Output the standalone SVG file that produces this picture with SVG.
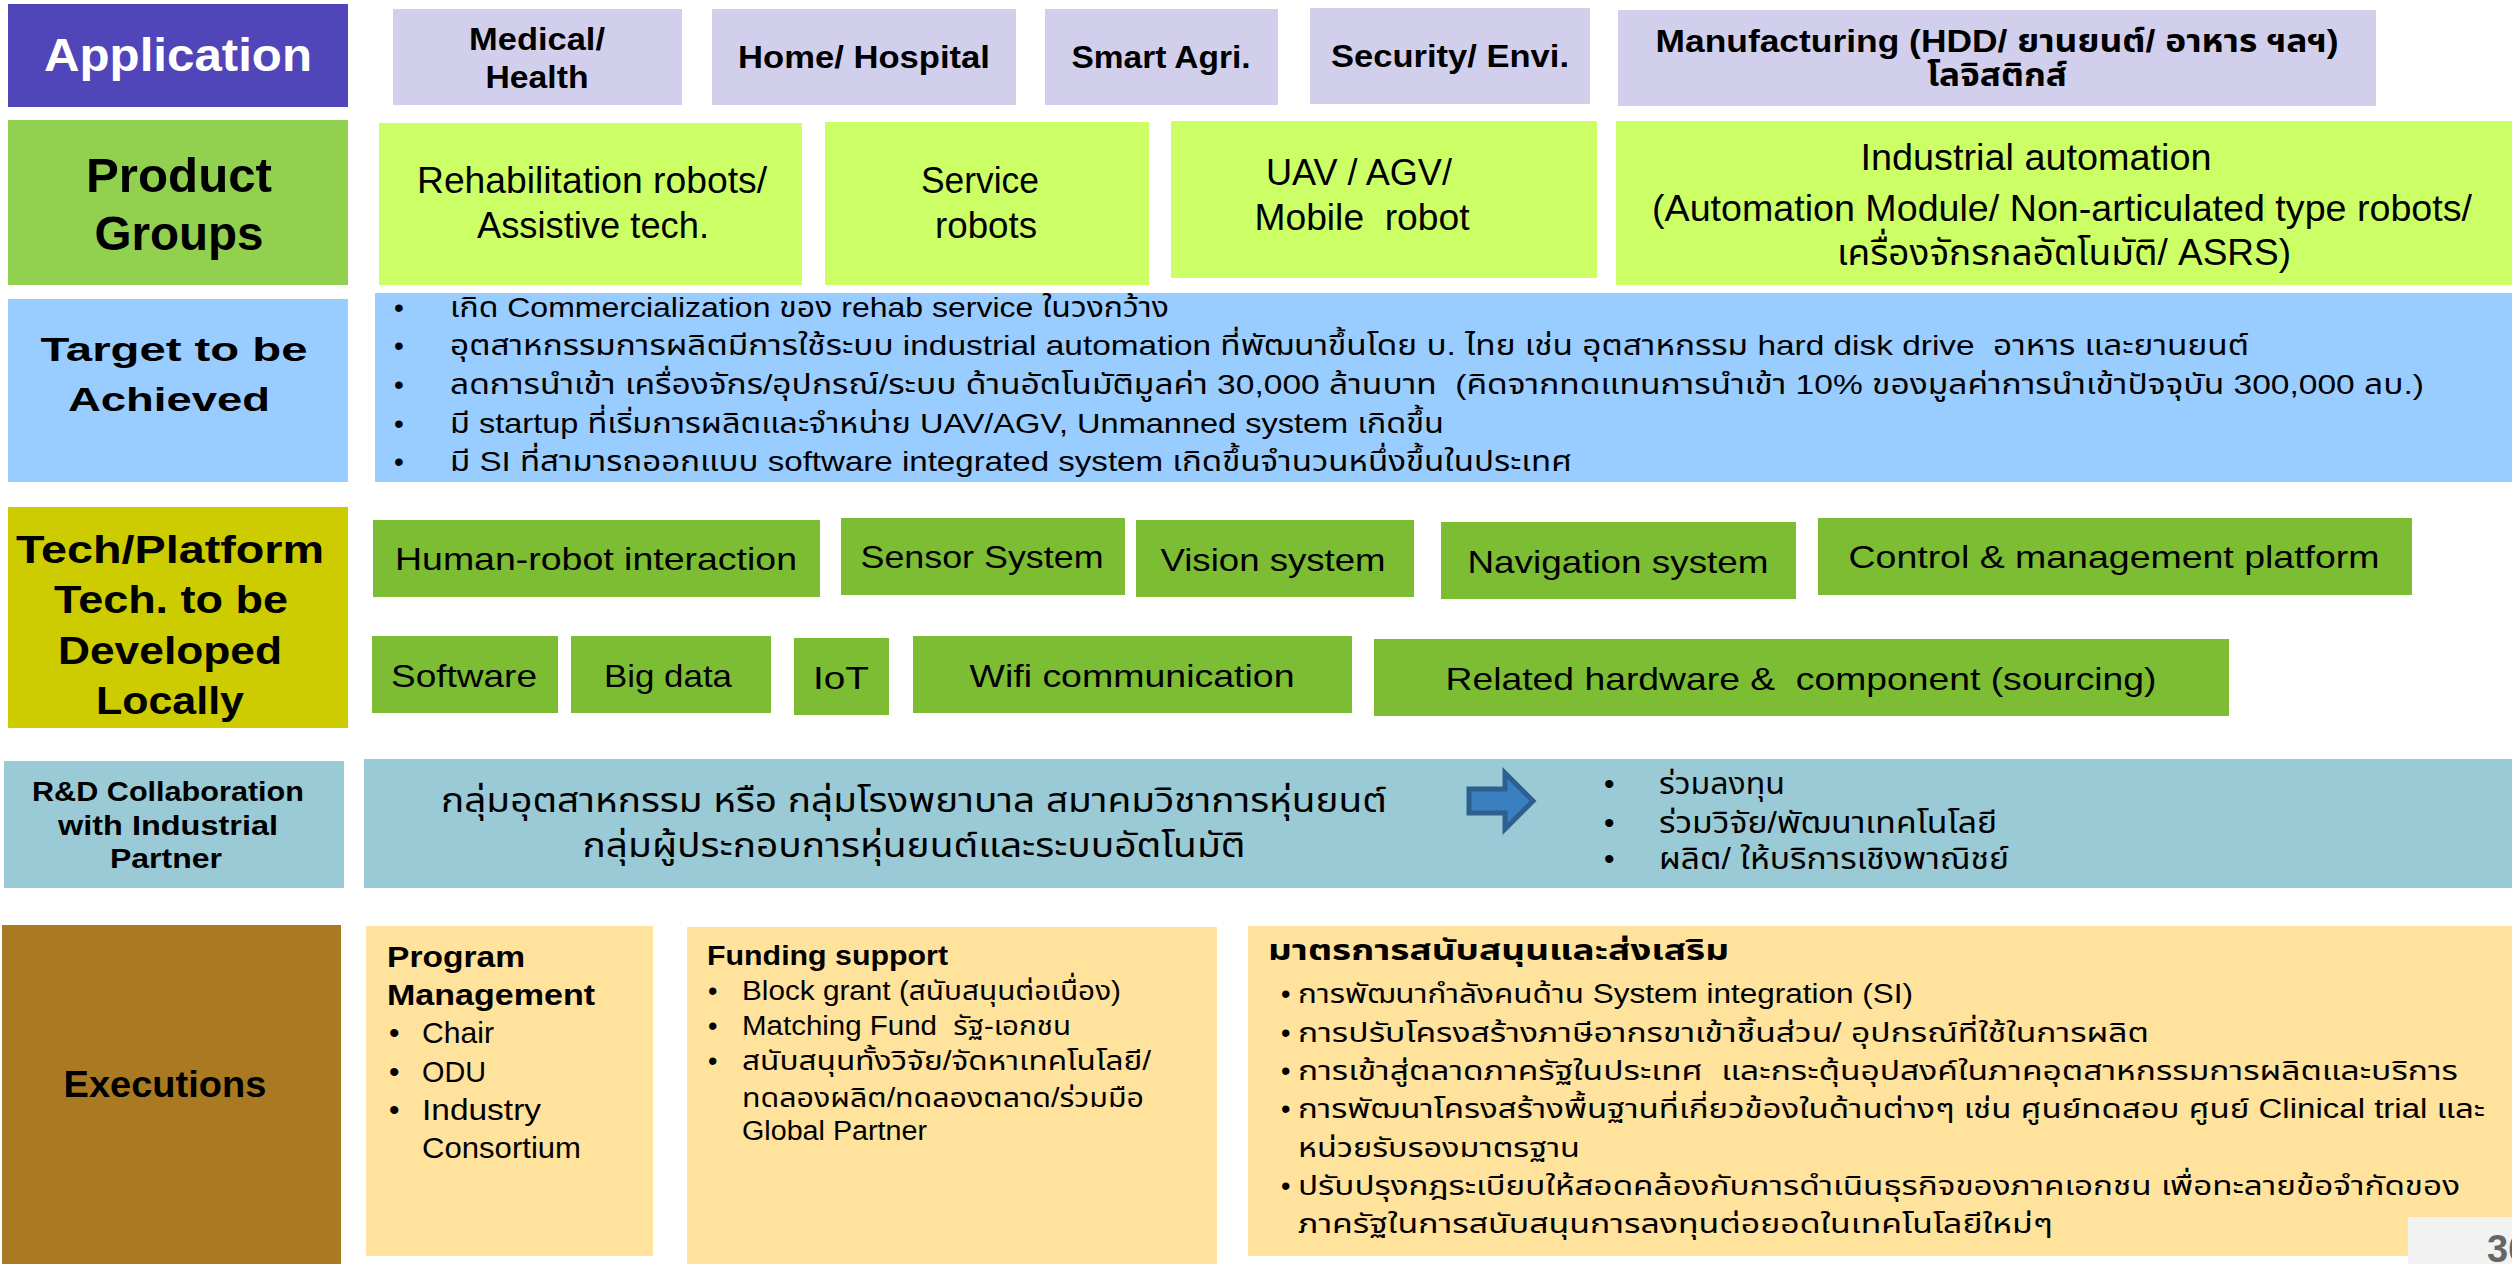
<svg xmlns="http://www.w3.org/2000/svg" width="2512" height="1264" viewBox="0 0 2512 1264">
<style>
text{font-family:Tahoma,"Liberation Sans","Noto Sans Thai","Noto Sans",sans-serif;fill:#000}
.b{font-weight:bold}
.c{text-anchor:middle}
.app{fill:#D2CFEC}
.prod{fill:#CCFF66}
.tech{fill:#7CBD34}
.tgt{fill:#99CCFF}
.rd{fill:#9ACAD5}
.ex{fill:#FFE29C}
.f31{font-size:31px}
.f36{font-size:36px}
.f32{font-size:32px}
.f27{font-size:27px}
.f28{font-size:28px}
.f30{font-size:30px}
</style>
<rect width="2512" height="1264" fill="#fff"/>
<g id="application">
<rect x="8" y="4" width="340" height="103" fill="#5146B9"/>
<text x="178" y="71" class="b c" style="fill:#fff;font-size:46px" textLength="268" lengthAdjust="spacingAndGlyphs">Application</text>
</g>
<g id="app-medical"><rect x="393" y="9" width="289" height="96" class="app"/>
<text x="537" y="50" class="b c f31" textLength="136" lengthAdjust="spacingAndGlyphs">Medical/</text>
<text x="537" y="88" class="b c f31" textLength="103" lengthAdjust="spacingAndGlyphs">Health</text></g>
<g id="app-home"><rect x="712" y="9" width="304" height="96" class="app"/>
<text x="864" y="68" class="b c f31" textLength="252" lengthAdjust="spacingAndGlyphs">Home/ Hospital</text></g>
<g id="app-agri"><rect x="1045" y="9" width="233" height="96" class="app"/>
<text x="1161" y="68" class="b c f31" textLength="179" lengthAdjust="spacingAndGlyphs">Smart Agri.</text></g>
<g id="app-security"><rect x="1310" y="8" width="280" height="96" class="app"/>
<text x="1450" y="67" class="b c f31" textLength="238" lengthAdjust="spacingAndGlyphs">Security/ Envi.</text></g>
<g id="app-manufacturing"><rect x="1618" y="10" width="758" height="96" class="app"/>
<text x="1997" y="52" class="b c f31" textLength="683" lengthAdjust="spacingAndGlyphs">Manufacturing (HDD/ ยานยนต์/ อาหาร ฯลฯ)</text>
<text x="1997" y="86" class="b c f31" textLength="140" lengthAdjust="spacingAndGlyphs">โลจิสติกส์</text></g>

<g id="product-groups"><rect x="8" y="120" width="340" height="165" fill="#92D050"/>
<text x="179" y="192" class="b c" style="font-size:48px" textLength="186" lengthAdjust="spacingAndGlyphs">Product</text>
<text x="179" y="250" class="b c" style="font-size:48px" textLength="169" lengthAdjust="spacingAndGlyphs">Groups</text></g>
<g id="prod-rehab"><rect x="379" y="123" width="423" height="162" class="prod"/>
<text x="592" y="193" class="c f36" textLength="350" lengthAdjust="spacingAndGlyphs">Rehabilitation robots/</text>
<text x="593" y="238" class="c f36" textLength="232" lengthAdjust="spacingAndGlyphs">Assistive tech.</text></g>
<g id="prod-service"><rect x="825" y="122" width="324" height="163" class="prod"/>
<text x="980" y="193" class="c f36" textLength="118" lengthAdjust="spacingAndGlyphs">Service</text>
<text x="986" y="238" class="c f36" textLength="102" lengthAdjust="spacingAndGlyphs">robots</text></g>
<g id="prod-uav"><rect x="1171" y="121" width="426" height="157" class="prod"/>
<text x="1359" y="185" class="c f36" textLength="186" lengthAdjust="spacingAndGlyphs">UAV / AGV/</text>
<text x="1362" y="230" class="c f36" xml:space="preserve" textLength="215" lengthAdjust="spacingAndGlyphs">Mobile  robot</text></g>
<g id="prod-industrial"><rect x="1616" y="121" width="896" height="164" class="prod"/>
<text x="2036" y="170" class="c f36" textLength="351" lengthAdjust="spacingAndGlyphs">Industrial automation</text>
<text x="2062" y="221" class="c f36" textLength="820" lengthAdjust="spacingAndGlyphs">(Automation Module/ Non-articulated type robots/</text>
<text x="2064" y="265" class="c f36" textLength="454" lengthAdjust="spacingAndGlyphs">เครื่องจักรกลอัตโนมัติ/ ASRS)</text></g>

<g id="target"><rect x="8" y="299" width="340" height="183" class="tgt"/>
<text x="174" y="361" class="b c" style="font-size:34px" textLength="267" lengthAdjust="spacingAndGlyphs">Target to be</text>
<text x="169" y="411" class="b c" style="font-size:34px" textLength="202" lengthAdjust="spacingAndGlyphs">Achieved</text></g>
<g id="target-list"><rect x="375" y="293" width="2137" height="189" class="tgt"/>
<text class="f28" x="394" y="317">•</text><text class="f28" x="450" y="317" textLength="719" lengthAdjust="spacingAndGlyphs">เกิด Commercialization ของ rehab service ในวงกว้าง</text>
<text class="f28" x="394" y="355">•</text><text class="f28" x="450" y="355" xml:space="preserve" textLength="1799" lengthAdjust="spacingAndGlyphs">อุตสาหกรรมการผลิตมีการใช้ระบบ industrial automation ที่พัฒนาขึ้นโดย บ. ไทย เช่น อุตสาหกรรม hard disk drive  อาหาร และยานยนต์</text>
<text class="f28" x="394" y="394">•</text><text class="f28" x="450" y="394" xml:space="preserve" textLength="1974" lengthAdjust="spacingAndGlyphs">ลดการนำเข้า เครื่องจักร/อุปกรณ์/ระบบ ด้านอัตโนมัติมูลค่า 30,000 ล้านบาท  (คิดจากทดแทนการนำเข้า 10% ของมูลค่าการนำเข้าปัจจุบัน 300,000 ลบ.)</text>
<text class="f28" x="394" y="433">•</text><text class="f28" x="450" y="433" textLength="994" lengthAdjust="spacingAndGlyphs">มี startup ที่เริ่มการผลิตและจำหน่าย UAV/AGV, Unmanned system เกิดขึ้น</text>
<text class="f28" x="394" y="471">•</text><text class="f28" x="450" y="471" textLength="1122" lengthAdjust="spacingAndGlyphs">มี SI ที่สามารถออกแบบ software integrated system เกิดขึ้นจำนวนหนึ่งขึ้นในประเทศ</text>
</g>

<g id="tech-platform"><rect x="8" y="507" width="340" height="221" fill="#CCCC00"/>
<text x="170" y="563" class="b c" style="font-size:38px" textLength="308" lengthAdjust="spacingAndGlyphs">Tech/Platform</text>
<text x="171" y="613" class="b c" style="font-size:38px" textLength="234" lengthAdjust="spacingAndGlyphs">Tech. to be</text>
<text x="170" y="664" class="b c" style="font-size:38px" textLength="224" lengthAdjust="spacingAndGlyphs">Developed</text>
<text x="170" y="714" class="b c" style="font-size:38px" textLength="148" lengthAdjust="spacingAndGlyphs">Locally</text></g>
<g id="tech-hri"><rect x="373" y="520" width="447" height="77" class="tech"/><text x="596" y="570" class="c f32" textLength="402" lengthAdjust="spacingAndGlyphs">Human-robot interaction</text></g>
<g id="tech-sensor"><rect x="841" y="518" width="284" height="77" class="tech"/><text x="982" y="568" class="c f32" textLength="243" lengthAdjust="spacingAndGlyphs">Sensor System</text></g>
<g id="tech-vision"><rect x="1136" y="520" width="278" height="77" class="tech"/><text x="1273" y="571" class="c f32" textLength="225" lengthAdjust="spacingAndGlyphs">Vision system</text></g>
<g id="tech-navigation"><rect x="1441" y="522" width="355" height="77" class="tech"/><text x="1618" y="573" class="c f32" textLength="301" lengthAdjust="spacingAndGlyphs">Navigation system</text></g>
<g id="tech-control"><rect x="1818" y="518" width="594" height="77" class="tech"/><text x="2114" y="568" class="c f32" textLength="531" lengthAdjust="spacingAndGlyphs">Control &amp; management platform</text></g>
<g id="tech-software"><rect x="372" y="636" width="186" height="77" class="tech"/><text x="464" y="687" class="c f32" textLength="146" lengthAdjust="spacingAndGlyphs">Software</text></g>
<g id="tech-bigdata"><rect x="571" y="636" width="200" height="77" class="tech"/><text x="668" y="687" class="c f32" textLength="128" lengthAdjust="spacingAndGlyphs">Big data</text></g>
<g id="tech-iot"><rect x="794" y="638" width="95" height="77" class="tech"/><text x="841" y="689" class="c f32" textLength="56" lengthAdjust="spacingAndGlyphs">IoT</text></g>
<g id="tech-wifi"><rect x="913" y="636" width="439" height="77" class="tech"/><text x="1132" y="687" class="c f32" textLength="325" lengthAdjust="spacingAndGlyphs">Wifi communication</text></g>
<g id="tech-hardware"><rect x="1374" y="639" width="855" height="77" class="tech"/><text x="1801" y="690" class="c f32" xml:space="preserve" textLength="711" lengthAdjust="spacingAndGlyphs">Related hardware &amp;  component (sourcing)</text></g>

<g id="rd-collab"><rect x="4" y="761" width="340" height="127" class="rd"/>
<text x="168" y="801" class="b c f27" textLength="272" lengthAdjust="spacingAndGlyphs">R&amp;D Collaboration</text>
<text x="168" y="835" class="b c f27" textLength="220" lengthAdjust="spacingAndGlyphs">with Industrial</text>
<text x="166" y="868" class="b c f27" textLength="112" lengthAdjust="spacingAndGlyphs">Partner</text></g>
<g id="rd-partners"><rect x="364" y="759" width="2148" height="129" class="rd"/>
<text x="914" y="812" class="c" style="font-size:34px" textLength="946" lengthAdjust="spacingAndGlyphs">กลุ่มอุตสาหกรรม หรือ กลุ่มโรงพยาบาล สมาคมวิชาการหุ่นยนต์</text>
<text x="914" y="857" class="c" style="font-size:34px" textLength="663" lengthAdjust="spacingAndGlyphs">กลุ่มผู้ประกอบการหุ่นยนต์และระบบอัตโนมัติ</text></g>
<g id="rd-outcomes">
<text class="f30" x="1604" y="794">•</text><text class="f30" x="1659" y="794" textLength="126" lengthAdjust="spacingAndGlyphs">ร่วมลงทุน</text>
<text class="f30" x="1604" y="833">•</text><text class="f30" x="1659" y="833" textLength="338" lengthAdjust="spacingAndGlyphs">ร่วมวิจัย/พัฒนาเทคโนโลยี</text>
<text class="f30" x="1604" y="869">•</text><text class="f30" x="1659" y="869" textLength="350" lengthAdjust="spacingAndGlyphs">ผลิต/ ให้บริการเชิงพาณิชย์</text></g>
<g id="connectors">
<polygon points="1469,789 1505,789 1505,773 1533,801 1505,829 1505,813 1469,813" fill="#3A7FBF" stroke="#2D5F8F" stroke-width="5" stroke-linejoin="miter"/>
</g>

<g id="executions"><rect x="2" y="925" width="339" height="339" fill="#AA7A22"/>
<text x="165" y="1097" class="b c f36" textLength="203" lengthAdjust="spacingAndGlyphs">Executions</text></g>
<g id="exec-program"><rect x="366" y="926" width="287" height="330" class="ex"/>
<text x="387" y="967" class="b f30" textLength="138" lengthAdjust="spacingAndGlyphs">Program</text>
<text x="387" y="1005" class="b f30" textLength="208" lengthAdjust="spacingAndGlyphs">Management</text>
<text class="f30" x="389" y="1043">•</text><text class="f30" x="422" y="1043" textLength="72" lengthAdjust="spacingAndGlyphs">Chair</text>
<text class="f30" x="389" y="1082">•</text><text class="f30" x="422" y="1082" textLength="64" lengthAdjust="spacingAndGlyphs">ODU</text>
<text class="f30" x="389" y="1120">•</text><text class="f30" x="422" y="1120" textLength="119" lengthAdjust="spacingAndGlyphs">Industry</text>
<text class="f30" x="422" y="1158" textLength="159" lengthAdjust="spacingAndGlyphs">Consortium</text></g>
<g id="exec-funding"><rect x="687" y="927" width="530" height="337" class="ex"/>
<text x="707" y="965" class="b f27" textLength="241" lengthAdjust="spacingAndGlyphs">Funding support</text>
<text class="f27" x="708" y="1000">•</text><text class="f27" x="742" y="1000" textLength="379" lengthAdjust="spacingAndGlyphs">Block grant (สนับสนุนต่อเนื่อง)</text>
<text class="f27" x="708" y="1035">•</text><text class="f27" x="742" y="1035" xml:space="preserve" textLength="329" lengthAdjust="spacingAndGlyphs">Matching Fund  รัฐ-เอกชน</text>
<text class="f27" x="708" y="1070">•</text><text class="f27" x="742" y="1070" textLength="409" lengthAdjust="spacingAndGlyphs">สนับสนุนทั้งวิจัย/จัดหาเทคโนโลยี/</text>
<text class="f27" x="742" y="1107" textLength="402" lengthAdjust="spacingAndGlyphs">ทดลองผลิต/ทดลองตลาด/ร่วมมือ</text>
<text class="f27" x="742" y="1140" textLength="185" lengthAdjust="spacingAndGlyphs">Global Partner</text></g>
<g id="exec-measures"><rect x="1248" y="926" width="1264" height="330" class="ex"/>
<text x="1268" y="960" class="b f28" textLength="461" lengthAdjust="spacingAndGlyphs">มาตรการสนับสนุนและส่งเสริม</text>
<text class="f27" x="1281" y="1003">•</text><text class="f27" x="1298" y="1003" textLength="615" lengthAdjust="spacingAndGlyphs">การพัฒนากำลังคนด้าน System integration (SI)</text>
<text class="f27" x="1281" y="1042">•</text><text class="f27" x="1298" y="1042" textLength="851" lengthAdjust="spacingAndGlyphs">การปรับโครงสร้างภาษีอากรขาเข้าชิ้นส่วน/ อุปกรณ์ที่ใช้ในการผลิต</text>
<text class="f27" x="1281" y="1080">•</text><text class="f27" x="1298" y="1080" xml:space="preserve" textLength="1160" lengthAdjust="spacingAndGlyphs">การเข้าสู่ตลาดภาครัฐในประเทศ  และกระตุ้นอุปสงค์ในภาคอุตสาหกรรมการผลิตและบริการ</text>
<text class="f27" x="1281" y="1118">•</text><text class="f27" x="1298" y="1118" textLength="1187" lengthAdjust="spacingAndGlyphs">การพัฒนาโครงสร้างพื้นฐานที่เกี่ยวข้องในด้านต่างๆ เช่น ศูนย์ทดสอบ ศูนย์ Clinical trial และ</text>
<text class="f27" x="1298" y="1157" textLength="282" lengthAdjust="spacingAndGlyphs">หน่วยรับรองมาตรฐาน</text>
<text class="f27" x="1281" y="1195">•</text><text class="f27" x="1298" y="1195" textLength="1162" lengthAdjust="spacingAndGlyphs">ปรับปรุงกฎระเบียบให้สอดคล้องกับการดำเนินธุรกิจของภาคเอกชน เพื่อทะลายข้อจำกัดของ</text>
<text class="f27" x="1298" y="1233" textLength="755" lengthAdjust="spacingAndGlyphs">ภาครัฐในการสนับสนุนการลงทุนต่อยอดในเทคโนโลยีใหม่ๆ</text></g>
<g id="page-number"><rect x="2408" y="1217" width="104" height="47" fill="#F2F2F2"/>
<text x="2487" y="1262" class="b" style="font-size:38px;fill:#666">36</text></g>
</svg>
